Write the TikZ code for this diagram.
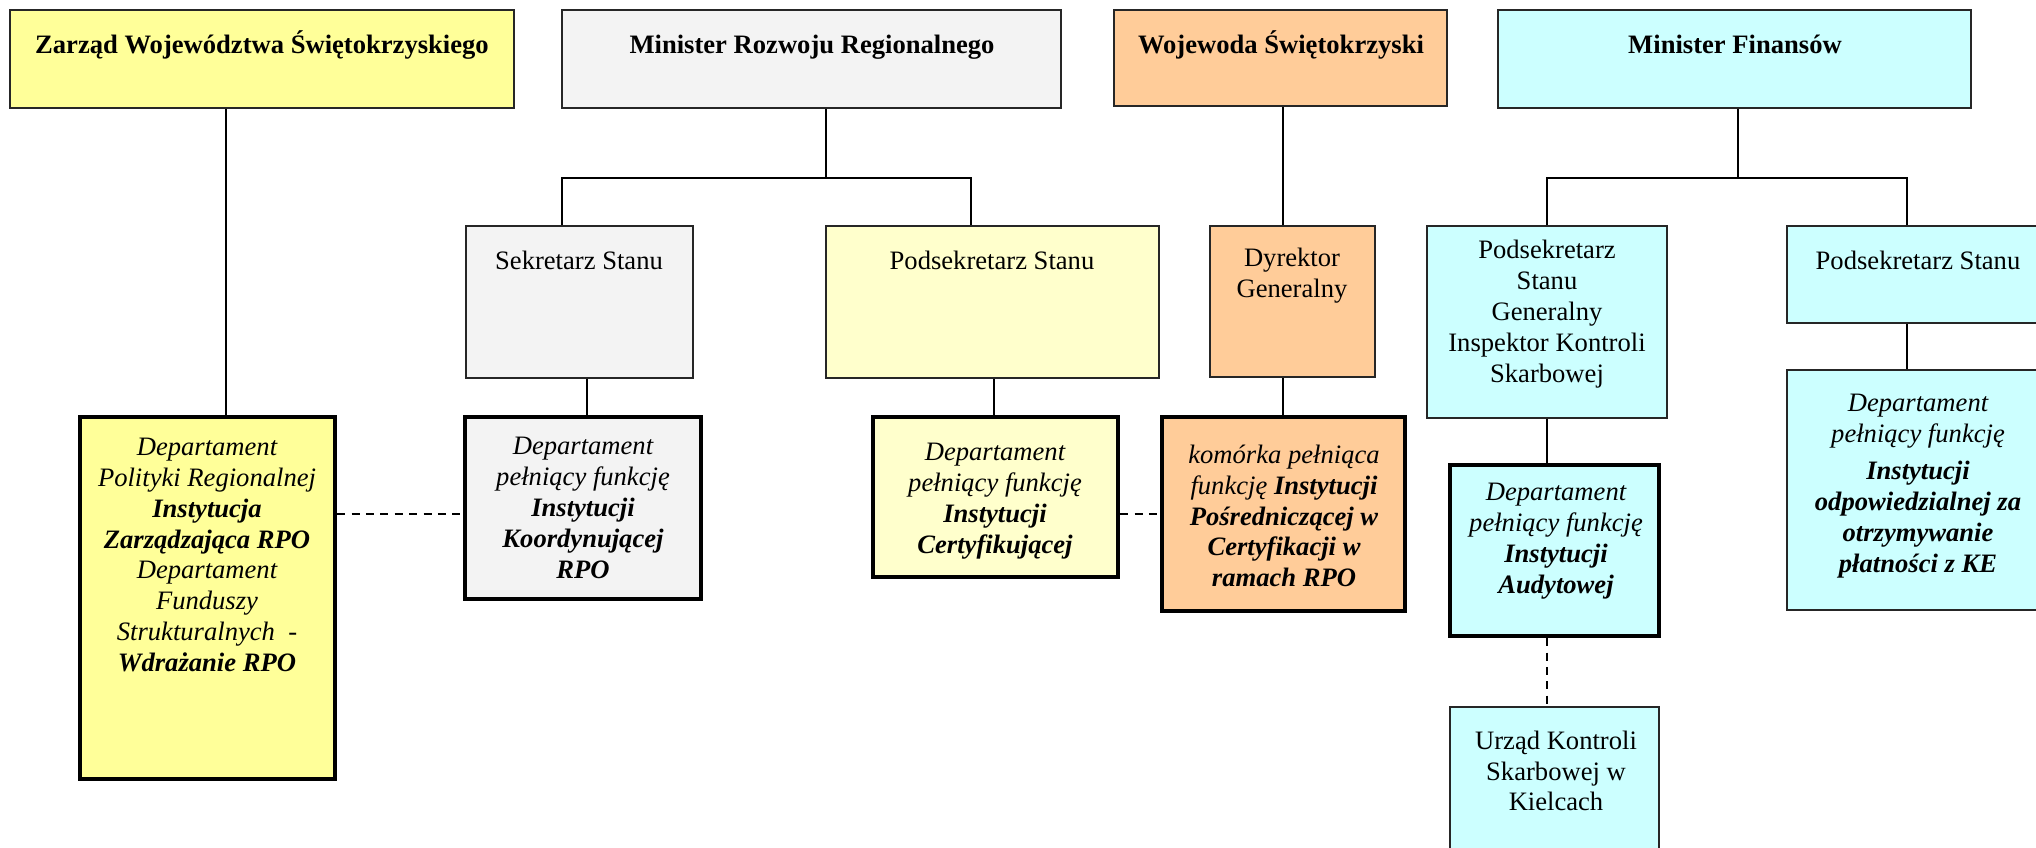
\documentclass[tikz,border=0pt]{standalone}
\usepackage{fontspec}
\setmainfont{Liberation Serif}
\usetikzlibrary{fit}
\definecolor{cYel}{HTML}{FFFF99}
\definecolor{cLYel}{HTML}{FFFFCC}
\definecolor{cGray}{HTML}{F3F3F3}
\definecolor{cOra}{HTML}{FFCC99}
\definecolor{cCyan}{HTML}{CCFFFF}
\tikzset{
  thinbox/.style={draw=black!85, line width=0.8pt, inner sep=0pt},
  thickbox/.style={draw=black, line width=2.1pt, inner sep=0pt},
  txt/.style={align=center, inner sep=0pt, font=\fontsize{13.3}{15.4}\selectfont},
  btxt/.style={txt, anchor=base, font=\fontsize{13.3}{15.4}\selectfont\bfseries},
  itxt/.style={txt, font=\fontsize{13.3}{15.4}\selectfont\itshape},
  conn/.style={line width=0.75pt},
  dconn/.style={line width=0.75pt, dash pattern=on 4pt off 3.2pt}
}
\begin{document}
\begin{tikzpicture}[x=0.5pt,y=-0.5pt]
\useasboundingbox (0,0) rectangle (2036,847);
% top level
\node[thinbox, fill=cYel,  fit={(10,10)(514,108)}] (zr) {};
\node[thinbox, fill=cGray, fit={(562,10)(1061,108)}] (mrr) {};
\node[thinbox, fill=cOra,  fit={(1114,10)(1447,106)}] (woj) {};
\node[thinbox, fill=cCyan, fit={(1498,10)(1971,108)}] (mf) {};
% second level
\node[thinbox, fill=cGray, fit={(466,226)(693,378)}] (ss) {};
\node[thinbox, fill=cLYel, fit={(826,226)(1159,378)}] (ps1) {};
\node[thinbox, fill=cOra,  fit={(1210,226)(1375,377)}] (dg) {};
\node[thinbox, fill=cCyan, fit={(1427,226)(1667,418)}] (psg) {};
\node[thinbox, fill=cCyan, fit={(1787,226)(2049,323)}] (ps2) {};
% departments
\node[thickbox, fill=cYel,  fit={(80,417)(335,779)}] (d1) {};
\node[thickbox, fill=cGray, fit={(465,417)(701,599)}] (d2) {};
\node[thickbox, fill=cLYel, fit={(873,417)(1118,577)}] (d3) {};
\node[thickbox, fill=cOra,  fit={(1162,417)(1405,611)}] (d4) {};
\node[thickbox, fill=cCyan, fit={(1450,465)(1659,636)}] (d5) {};
\node[thinbox,  fill=cCyan, fit={(1787,370)(2049,610)}] (d6) {};
\node[thinbox,  fill=cCyan, fit={(1450,707)(1659,870)}] (uks) {};

% texts
\node[btxt] (tzr) at (262,53) {Zarząd Województwa Świętokrzyskiego};
\node[btxt] (tmrr) at (812,53) {Minister Rozwoju Regionalnego};
\node[btxt] (twoj) at (1281,53) {Wojewoda Świętokrzyski};
\node[btxt] (tmf) at (1735,53) {Minister Finansów};

\node[txt, anchor=base] (tss) at (579,269) {Sekretarz Stanu};
\node[txt, anchor=base] (tps1) at (992,269) {Podsekretarz Stanu};
\node[txt] (tdg) at (1292,276) {Dyrektor\\Generalny};
\node[txt] (tpsg) at (1547,314) {Podsekretarz\\Stanu\\Generalny\\Inspektor Kontroli\\Skarbowej};
\node[txt, anchor=base] (tps2) at (1918,269) {Podsekretarz Stanu};

\node[itxt] (td1) at (207,555) {Departament\\Polityki Regionalnej\\\textbf{Instytucja}\\\textbf{Zarządzająca RPO}\\Departament\\Funduszy\\Strukturalnych\ \ -\\\textbf{Wdrażanie RPO}};
\node[itxt] (td2) at (583,508) {Departament\\pełniący funkcję\\\textbf{Instytucji}\\\textbf{Koordynującej}\\\textbf{RPO}};
\node[itxt] (td3) at (995,501) {Departament\\pełniący funkcję\\\textbf{Instytucji}\\\textbf{Certyfikującej}};
\node[itxt] (td4) at (1284,516) {komórka pełniąca\\funkcję \textbf{Instytucji}\\\textbf{Pośredniczącej w}\\\textbf{Certyfikacji w}\\\textbf{ramach RPO}};
\node[itxt] (td5) at (1556,541) {Departament\\pełniący funkcję\\\textbf{Instytucji}\\\textbf{Audytowej}};
\node[itxt] (td6) at (1918,486) {Departament\\pełniący funkcję\\[3.5pt]\textbf{Instytucji}\\\textbf{odpowiedzialnej za}\\\textbf{otrzymywanie}\\\textbf{płatności z KE}};
\node[txt] (tuks) at (1556,771) {Urząd Kontroli\\Skarbowej w\\Kielcach};

% connectors
\coordinate (b1) at (826,178);
\coordinate (b2) at (1738,178);
\draw[conn] (zr.south -| 226,0) -- (d1.north -| 226,0);
\draw[conn] (mrr.south -| b1) -- (b1);
\draw[conn] (ss.north -| 562,0) |- (b1) -| (ps1.north -| 971,0);
\draw[conn] (ss.south -| 587,0) -- (d2.north -| 587,0);
\draw[conn] (ps1.south -| 994,0) -- (d3.north -| 994,0);
\draw[conn] (woj.south -| 1283,0) -- (dg.north -| 1283,0);
\draw[conn] (dg.south -| 1283,0) -- (d4.north -| 1283,0);
\draw[conn] (mf.south -| b2) -- (b2);
\draw[conn] (psg.north -| 1547,0) |- (b2) -| (ps2.north -| 1907,0);
\draw[conn] (psg.south -| 1547,0) -- (d5.north -| 1547,0);
\draw[conn] (ps2.south -| 1907,0) -- (d6.north -| 1907,0);
\draw[dconn] (d5.south -| 1547,0) -- (uks.north -| 1547,0);
\draw[dconn] (d1.east |- 0,514) -- (d2.west |- 0,514);
\draw[dconn] (d3.east |- 0,514) -- (d4.west |- 0,514);
\end{tikzpicture}
\end{document}
